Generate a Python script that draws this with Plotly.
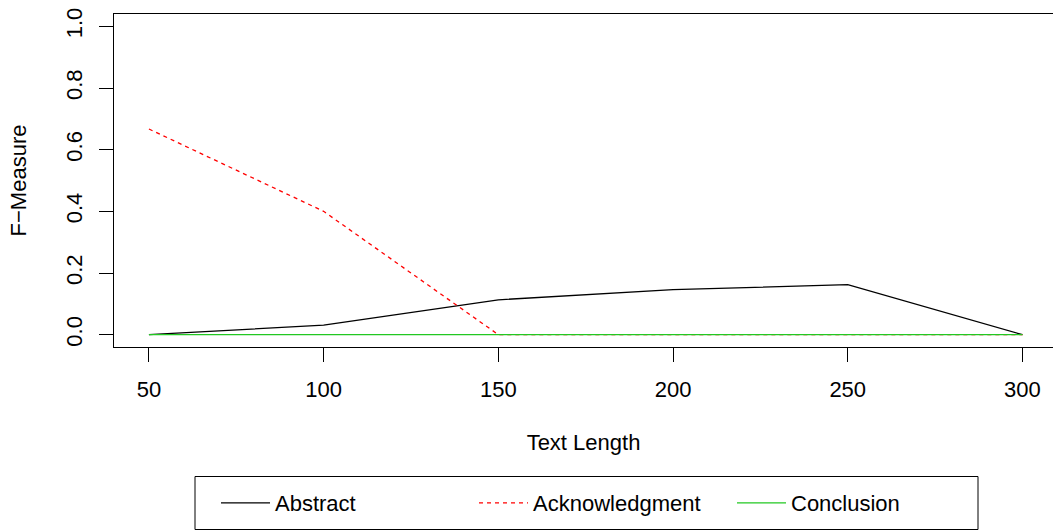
import plotly.graph_objects as go

text_length = [50, 100, 150, 200, 250, 300]
abstract = [0.0, 0.031, 0.113, 0.146, 0.162, 0.0]
acknowledgment = [0.667, 0.40, 0.0, 0.0, 0.0, 0.0]
conclusion = [0.0, 0.0, 0.0, 0.0, 0.0, 0.0]
y_ticks = [0.0, 0.2, 0.4, 0.6, 0.8, 1.0]

W, H = 1053, 530
L, R, T, B = 114, 0, 14, 183
pw, ph = W - L - R, H - T - B

fig = go.Figure()
fig.add_trace(go.Scatter(x=text_length, y=abstract, mode="lines", name="Abstract",
                         line=dict(color="black", width=1.3)))
fig.add_trace(go.Scatter(x=text_length, y=acknowledgment, mode="lines", name="Acknowledgment",
                         line=dict(color="#FF0000", width=1.3, dash="4px,4px")))
fig.add_trace(go.Scatter(x=text_length, y=conclusion, mode="lines", name="Conclusion",
                         line=dict(color="#22C822", width=1.3)))

def px2x(p):
    return (p - L) / pw

def px2y(p):
    return (H - B - p) / ph

font = dict(family="Liberation Sans, Arial, sans-serif", size=22, color="black")

fig.update_layout(
    width=W, height=H,
    margin=dict(l=L, r=R, t=T, b=B, pad=0),
    paper_bgcolor="white", plot_bgcolor="white",
    font=font,
    showlegend=True,
    legend=dict(
        orientation="h", x=px2x(216), y=px2y(482), xanchor="left", yanchor="top",
        xref="paper", yref="paper",
        entrywidth=194, entrywidthmode="pixels", itemwidth=49,
        bgcolor="rgba(0,0,0,0)", borderwidth=0, font=font,
    ),
    xaxis=dict(
        range=[40, 40 + pw / 3.494], tickvals=text_length, ticktext=[str(v) for v in text_length],
        showgrid=False, zeroline=False, showline=True, mirror=True, linecolor="black", linewidth=1,
        ticks="outside", ticklen=14, tickcolor="black", tickwidth=1,
        ticklabelstandoff=9,
        title=dict(text="Text Length", font=font, standoff=33),
    ),
    yaxis=dict(
        range=[-0.04, 1.04], tickvals=y_ticks, ticktext=[f"{v:.1f}" for v in y_ticks],
        showgrid=False, zeroline=False, showline=True, mirror=False, linecolor="black", linewidth=1,
        ticks="outside", ticklen=14, tickcolor="black", tickwidth=1,
        tickangle=-90, ticklabelstandoff=8,
        title=dict(text="F\u2212Measure", font=font, standoff=29),
    ),
    shapes=[
        dict(type="rect", xref="paper", yref="paper",
             x0=px2x(195), x1=px2x(978), y0=px2y(529.5), y1=px2y(476.5),
             line=dict(color="black", width=1), fillcolor="rgba(0,0,0,0)"),
    ],
)

fig.write_html("out.html", config={"displayModeBar": False},
               post_script="document.body.style.margin='0';document.body.style.overflow='hidden';")
